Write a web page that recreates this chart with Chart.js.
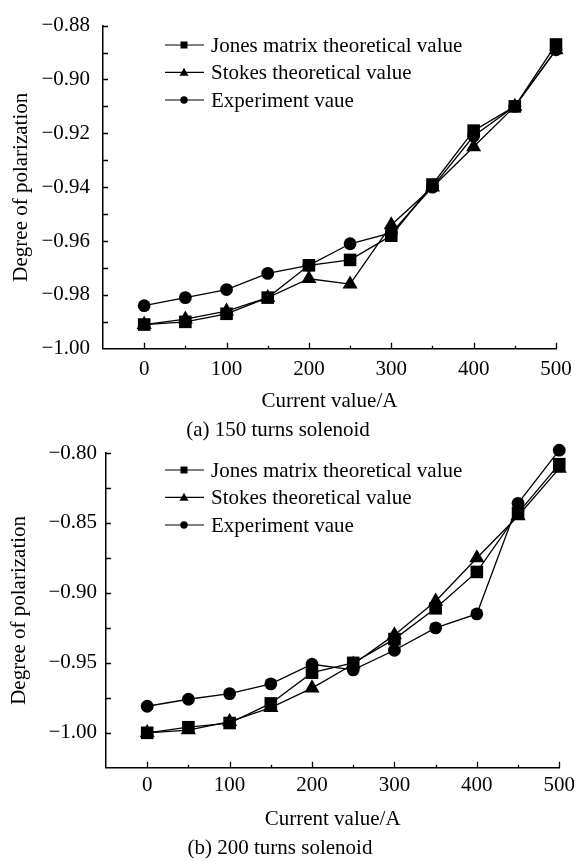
<!DOCTYPE html>
<html>
<head>
<meta charset="utf-8">
<script src="https://cdn.jsdelivr.net/npm/chart.js@4/dist/chart.umd.min.js"></script>
<style>
  body { margin: 0; background: #fff; }
  #wrap { position: relative; width: 580px; height: 861px; }
  canvas { position: absolute; left: 0; }
  #chart-a { top: 0; }
  #chart-b { top: 425px; }
</style>
</head>
<body>
<div id="wrap">
  <canvas id="chart-a" width="580" height="448"></canvas>
  <canvas id="chart-b" width="580" height="436"></canvas>
</div>
<script>
// current values (A), shared by both panels
const currents = [0, 50, 100, 150, 200, 250, 300, 350, 400, 450, 500];

// (a) 150 turns solenoid
const jonesA  = [-0.991, -0.990, -0.987, -0.981, -0.969, -0.967, -0.958, -0.939, -0.919, -0.910, -0.887];
const stokesA = [-0.991, -0.989, -0.986, -0.981, -0.974, -0.976, -0.954, -0.940, -0.925, -0.910, -0.889];
const exprA   = [-0.984, -0.981, -0.978, -0.972, -0.969, -0.961, -0.957, -0.940, -0.921, -0.910, -0.889];

// (b) 200 turns solenoid
const jonesB  = [-1.000, -0.996, -0.993, -0.979, -0.957, -0.950, -0.933, -0.911, -0.885, -0.843, -0.808];
const stokesB = [-1.000, -0.998, -0.992, -0.982, -0.968, -0.951, -0.930, -0.906, -0.875, -0.845, -0.811];
const exprB   = [-0.981, -0.976, -0.972, -0.965, -0.951, -0.955, -0.941, -0.925, -0.915, -0.836, -0.798];

const seriesNames = ['Jones matrix theoretical value', 'Stokes theoretical value', 'Experiment vaue'];
const seriesStyles = ['rect', 'triangle', 'circle'];
const xTitle = 'Current value/A';
const yTitle = 'Degree of polarization';
const captions = ['(a) 150 turns solenoid', '(b) 200 turns solenoid'];

const FONT = "'Liberation Serif', 'Times New Roman', serif";
const FSIZE = 21;
const minus = v => (v < 0 ? '\u2212' : '') + Math.abs(v).toFixed(2);

// ticks in the figure point into the plot area, so draw them by hand
const inwardTicks = {
    id: 'inwardTicks',
    afterDraw(chart) {
        const ctx = chart.ctx, area = chart.chartArea;
        const xs = chart.scales.x, ys = chart.scales.y;
        ctx.save();
        ctx.strokeStyle = '#000';
        ctx.lineWidth = 1.3;
        ctx.beginPath();
        xs.ticks.forEach(t => {
            if (t.value <= xs.min) return;
            const px = Math.round(xs.getPixelForValue(t.value)) + 0.5;
            const len = t.value % 100 === 0 ? 6 : 3;
            ctx.moveTo(px, area.bottom);
            ctx.lineTo(px, area.bottom - len);
        });
        ys.ticks.forEach(t => {
            if (t.value <= ys.min + 1e-9) return;
            const py = Math.round(ys.getPixelForValue(t.value)) + 0.5;
            ctx.moveTo(area.left, py);
            ctx.lineTo(area.left + 5, py);
        });
        ctx.stroke();
        ctx.restore();
    }
};

// small legend in the upper left: -marker- label
const boxLegend = {
    id: 'boxLegend',
    afterDraw(chart) {
        const ctx = chart.ctx;
        const x0 = 165, x1 = 204, mx = 184, tx = 211, rows = [45, 72.3, 100];
        ctx.save();
        ctx.strokeStyle = '#000';
        ctx.fillStyle = '#000';
        ctx.lineWidth = 1.2;
        ctx.font = FSIZE + 'px ' + FONT;
        ctx.textBaseline = 'middle';
        chart.data.datasets.forEach((ds, i) => {
            const y = rows[i];
            ctx.beginPath();
            ctx.moveTo(x0, y);
            ctx.lineTo(x1, y);
            ctx.stroke();
            ctx.beginPath();
            if (ds.pointStyle === 'rect') {
                ctx.rect(mx - 3.5, y - 3.5, 7, 7);
            } else if (ds.pointStyle === 'triangle') {
                ctx.moveTo(mx, y - 4.5);
                ctx.lineTo(mx + 4.5, y + 3.5);
                ctx.lineTo(mx - 4.5, y + 3.5);
                ctx.closePath();
            } else {
                ctx.arc(mx, y, 3.7, 0, Math.PI * 2);
            }
            ctx.fill();
            ctx.fillText(ds.label, tx, y + 1);
        });
        ctx.restore();
    }
};

function makeDataset(i, values) {
    const radius = [8.9, 8.7, 6.4][i];
    return {
        label: seriesNames[i],
        data: currents.map((c, k) => ({ x: c, y: values[k] })),
        borderColor: '#000',
        backgroundColor: '#000',
        borderWidth: 1.3,
        pointStyle: seriesStyles[i],
        pointRadius: radius,
        pointBackgroundColor: '#000',
        pointBorderColor: '#000',
        pointBorderWidth: 0,
        tension: 0,
        clip: false
    };
}

function makeChart(canvasId, sets, cfg) {
    const font = { family: FONT, size: FSIZE };
    return new Chart(document.getElementById(canvasId), {
        type: 'line',
        data: { datasets: sets.map((v, i) => makeDataset(i, v)) },
        options: {
            responsive: false,
            animation: false,
            events: [],
            layout: { padding: { top: cfg.padTop, right: cfg.padRight, left: 0, bottom: 0 } },
            scales: {
                x: {
                    type: 'linear',
                    min: -50, max: 500,
                    grid: { display: false, drawTicks: false },
                    border: { display: true, color: '#000', width: 1.5 },
                    ticks: {
                        stepSize: 50,
                        autoSkip: false,
                        maxRotation: 0,
                        padding: cfg.xLabelPad,
                        color: '#000',
                        font: font,
                        callback: v => (v >= 0 && v % 100 === 0) ? String(v) : ''
                    },
                    title: {
                        display: true, text: xTitle, color: '#000', font: font,
                        padding: { top: 0, bottom: cfg.xTitlePad }
                    },
                    afterFit: s => { s.height = cfg.xHeight; }
                },
                y: {
                    min: cfg.yMin, max: cfg.yMax,
                    grid: { display: false, drawTicks: false },
                    border: { display: true, color: '#000', width: 1.5 },
                    ticks: {
                        stepSize: cfg.yStep,
                        autoSkip: false,
                        padding: cfg.yLabelPad,
                        color: '#000',
                        font: font,
                        callback: v => cfg.yLabel(v) ? minus(v) : ''
                    },
                    title: {
                        display: true, text: yTitle, color: '#000', font: font,
                        padding: { top: cfg.yTitlePad, bottom: 0 }
                    },
                    afterFit: s => { s.width = cfg.yWidth; }
                }
            },
            plugins: {
                legend: { display: false },
                tooltip: { enabled: false },
                title: {
                    display: true, position: 'bottom', text: cfg.caption, color: '#000',
                    font: { family: FONT, size: FSIZE, weight: 'normal' },
                    padding: { top: 2, bottom: cfg.capPad }
                }
            }
        },
        plugins: [inwardTicks, boxLegend]
    });
}

makeChart('chart-a', [jonesA, stokesA, exprA], {
    caption: captions[0],
    padTop: 21, padRight: 24,
    yMin: -1.00, yMax: -0.88, yStep: 0.01,
    yLabel: v => Math.round(v * 100) % 2 === 0,
    yWidth: 103, yLabelPad: 13, yTitlePad: 9,
    xHeight: 67, xLabelPad: 8, xTitlePad: 2,
    capPad: 5
});

makeChart('chart-b', [jonesB, stokesB, exprB], {
    caption: captions[1],
    padTop: 28, padRight: 20,
    yMin: -1.025, yMax: -0.80, yStep: 0.025,
    yLabel: v => Math.round(v * 1000) % 50 === 0,
    yWidth: 106, yLabelPad: 9, yTitlePad: 7,
    xHeight: 66, xLabelPad: 5, xTitlePad: 2,
    capPad: 0
});
</script>
</body>
</html>
